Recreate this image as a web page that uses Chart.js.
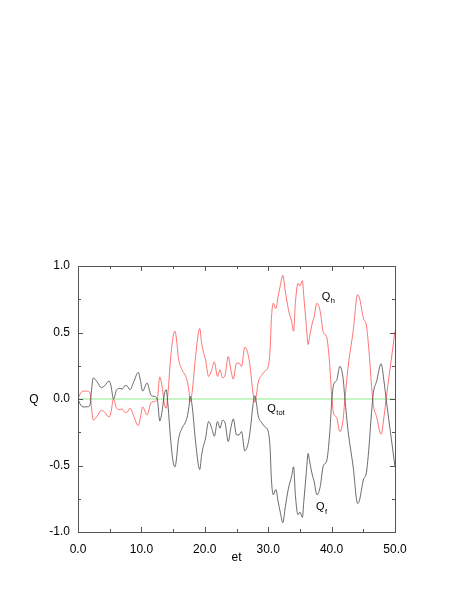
<!DOCTYPE html>
<html>
<head>
<meta charset="utf-8">
<script src="https://cdn.jsdelivr.net/npm/chart.js@4"></script>
<style>
  html, body { margin: 0; padding: 0; background: #fff; }
  #wrap { width: 463px; height: 599px; }
</style>
</head>
<body>
<div id="wrap"><canvas id="chart" width="463" height="599"></canvas></div>
<script>
// ── Data ─────────────────────────────────────────────────────────────────────
const times = [
  0.0, 0.3, 0.6, 1.0, 1.5, 1.9, 2.1, 2.4, 3.0, 3.7,
  4.2, 4.9, 5.2, 5.6, 6.1, 6.6, 7.0, 7.4, 7.7, 8.2,
  8.8, 9.5, 9.8, 10.2, 10.9, 11.5, 12.0, 12.5, 12.9, 13.3,
  13.6, 13.9, 14.2, 14.6, 15.0, 15.3, 15.6, 15.8, 16.4, 16.9,
  17.2, 17.5, 17.7, 18.0, 18.5, 19.0, 19.2, 19.5, 19.8, 20.1,
  20.6, 21.1, 21.5, 22.0, 22.4, 22.8, 23.2, 23.7, 24.1, 24.5,
  25.0, 25.4, 25.8, 26.3, 26.9, 27.2, 27.6, 27.9, 28.2, 28.4,
  29.0, 29.5, 30.0, 30.3, 30.5, 30.8, 31.2, 31.6, 31.9, 32.3,
  32.7, 33.2, 33.7, 34.0, 34.3, 34.7, 35.0, 35.4, 35.6, 36.0,
  36.3, 36.5, 37.0, 37.2, 37.7, 38.2, 38.7, 39.2, 39.7, 40.0,
  40.3, 40.8, 41.3, 41.8, 42.1, 42.6, 43.4, 44.1, 44.4, 45.0,
  45.5, 45.9, 46.3, 46.6, 47.1, 47.8, 48.3, 48.6, 49.2, 50.0
];

// Q_h (red)
const qh = [
  0.0, 0.035, 0.055, 0.06, 0.058, 0.045, -0.05, -0.158, -0.13, -0.085,
  -0.1, -0.135, -0.1, 0.0, -0.07, -0.08, -0.075, -0.1, -0.1, -0.07,
  -0.13, -0.2, -0.15, -0.06, -0.12, -0.03, -0.02, 0.0, 0.165, 0.08,
  -0.03, -0.07, 0.05, 0.3, 0.47, 0.51, 0.42, 0.32, 0.22, 0.18,
  0.14, 0.06, -0.02, 0.05, 0.3, 0.5, 0.53, 0.42, 0.35, 0.3,
  0.17, 0.22, 0.28, 0.17, 0.22, 0.16, 0.18, 0.32, 0.22, 0.15,
  0.27, 0.27, 0.245, 0.39, 0.32, 0.22, 0.045, -0.025, 0.05, 0.12,
  0.18, 0.21, 0.245, 0.37, 0.6, 0.72, 0.68, 0.78, 0.85, 0.93,
  0.81, 0.67, 0.58, 0.51, 0.73, 0.87, 0.85, 0.89, 0.78, 0.56,
  0.41, 0.46, 0.58, 0.61, 0.72, 0.66, 0.5, 0.47, 0.26, 0.03,
  -0.105, -0.14, -0.245, -0.16, 0.0, 0.24, 0.51, 0.785, 0.76, 0.61,
  0.55, 0.36, 0.1, -0.05, -0.133, -0.265, -0.12, 0.0, 0.22, 0.51
];

// Q_f (black)
const qf = [
  0.0, -0.035, -0.055, -0.06, -0.058, -0.045, 0.05, 0.158, 0.13, 0.085,
  0.1, 0.135, 0.1, 0.0, 0.07, 0.08, 0.075, 0.1, 0.1, 0.07,
  0.13, 0.2, 0.15, 0.06, 0.12, 0.03, 0.02, 0.0, -0.165, -0.08,
  0.03, 0.07, -0.05, -0.3, -0.47, -0.51, -0.42, -0.32, -0.22, -0.18,
  -0.14, -0.06, 0.02, -0.05, -0.3, -0.5, -0.53, -0.42, -0.35, -0.3,
  -0.17, -0.22, -0.28, -0.17, -0.22, -0.16, -0.18, -0.32, -0.22, -0.15,
  -0.27, -0.27, -0.245, -0.39, -0.32, -0.22, -0.045, 0.025, -0.05, -0.12,
  -0.18, -0.21, -0.245, -0.37, -0.6, -0.72, -0.68, -0.78, -0.85, -0.93,
  -0.81, -0.67, -0.58, -0.51, -0.73, -0.87, -0.85, -0.89, -0.78, -0.56,
  -0.41, -0.46, -0.58, -0.61, -0.72, -0.66, -0.5, -0.47, -0.26, -0.03,
  0.105, 0.14, 0.245, 0.16, 0.0, -0.24, -0.51, -0.785, -0.76, -0.61,
  -0.55, -0.36, -0.1, 0.05, 0.133, 0.265, 0.12, 0.0, -0.22, -0.51
];

// Q_tot (green, flat at zero)
const totTimes = [0.0, 50.0];
const qtot = [0.0, 0.0];

// Curve labels, placed in data coordinates
const curveLabels = [
  { text: 'Q', sub: 'h',   x: 38.45, y: 0.745 },
  { text: 'Q', sub: 'tot', x: 29.86, y: -0.094 },
  { text: 'Q', sub: 'f',   x: 37.55, y: -0.835 }
];

const xTitle = 'et';
const yTitle = 'Q';

// ── Helpers ──────────────────────────────────────────────────────────────────
const FONT = "'Liberation Sans', Arial, Helvetica, sans-serif";

function toPoints(xs, ys) {
  return xs.map((x, i) => ({ x, y: ys[i] }));
}

// frame, inward ticks on all four sides, titles and curve labels
const framePlugin = {
  id: 'frame',
  afterDraw(chart) {
    const { ctx, chartArea: a, scales } = chart;
    const xs = scales.x, ys = scales.y;
    ctx.save();
    ctx.strokeStyle = '#555';
    ctx.lineWidth = 1;
    ctx.strokeRect(a.left + 0.5, a.top + 0.5, a.right - a.left, a.bottom - a.top);

    ctx.beginPath();
    xs.ticks.forEach(t => {
      const px = Math.round(xs.getPixelForValue(t.value)) + 0.5;
      const len = (Math.round(t.value) % 10 === 0) ? 5 : 3;
      ctx.moveTo(px, a.bottom); ctx.lineTo(px, a.bottom - len);
      ctx.moveTo(px, a.top);    ctx.lineTo(px, a.top + len);
    });
    ys.ticks.forEach(t => {
      const py = Math.round(ys.getPixelForValue(t.value)) + 0.5;
      const len = (Math.round(t.value * 100) % 50 === 0) ? 5 : 3;
      ctx.moveTo(a.left, py);  ctx.lineTo(a.left + len, py);
      ctx.moveTo(a.right, py); ctx.lineTo(a.right - len, py);
    });
    ctx.stroke();

    // axis titles
    ctx.fillStyle = '#000';
    ctx.font = '12px ' + FONT;
    ctx.textAlign = 'center';
    ctx.textBaseline = 'alphabetic';
    ctx.fillText(xTitle, (a.left + a.right) / 2, 561);
    ctx.fillText(yTitle, 34, 403);

    // curve labels
    ctx.textAlign = 'left';
    curveLabels.forEach(l => {
      const px = xs.getPixelForValue(l.x);
      const py = ys.getPixelForValue(l.y);
      ctx.font = '11px ' + FONT;
      ctx.fillText(l.text, px, py);
      const w = ctx.measureText(l.text).width;
      ctx.font = '7.5px ' + FONT;
      ctx.fillText(l.sub, px + w + 0.5, py + 3.5);
    });
    ctx.restore();
  }
};

// ── Chart ────────────────────────────────────────────────────────────────────
Chart.defaults.font.family = FONT;
Chart.defaults.font.size = 12;
Chart.defaults.color = '#000';

new Chart(document.getElementById('chart').getContext('2d'), {
  type: 'line',
  data: {
    datasets: [
      {
        label: 'Q_tot',
        data: toPoints(totTimes, qtot),
        borderColor: 'rgb(140,235,140)',
        borderWidth: 1,
        pointRadius: 0,
        order: 3
      },
      {
        label: 'Q_h',
        data: toPoints(times, qh),
        borderColor: 'rgb(255,80,80)',
        borderWidth: 0.8,
        pointRadius: 0,
        cubicInterpolationMode: 'monotone',
        order: 2
      },
      {
        label: 'Q_f',
        data: toPoints(times, qf),
        borderColor: 'rgb(70,70,70)',
        borderWidth: 0.8,
        pointRadius: 0,
        cubicInterpolationMode: 'monotone',
        order: 1
      }
    ]
  },
  options: {
    responsive: false,
    animation: false,
    devicePixelRatio: 1,
    layout: { padding: { top: 266, right: 68, left: 0, bottom: 0 } },
    plugins: { legend: { display: false }, tooltip: { enabled: false } },
    scales: {
      x: {
        type: 'linear',
        min: 0, max: 50,
        grid: { display: false, drawTicks: false },
        border: { display: false },
        ticks: {
          stepSize: 5,
          autoSkip: false,
          maxRotation: 0,
          padding: 10,
          callback: v => (Math.round(v) % 10 === 0 ? v.toFixed(1) : '')
        },
        afterFit: s => { s.height = 67; }
      },
      y: {
        type: 'linear',
        min: -1, max: 1,
        grid: { display: false, drawTicks: false },
        border: { display: false },
        ticks: {
          stepSize: 0.25,
          autoSkip: false,
          padding: 8,
          callback: v => (Math.round(v * 100) % 50 === 0 ? v.toFixed(1) : '')
        },
        afterFit: s => { s.width = 78; }
      }
    }
  },
  plugins: [framePlugin]
});
</script>
</body>
</html>
